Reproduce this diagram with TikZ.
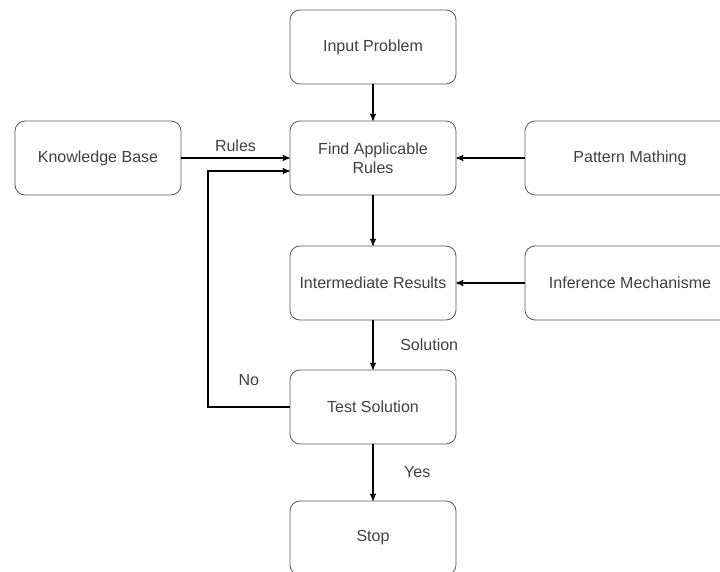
\documentclass[tikz,border=0pt]{standalone}
\usepackage{fontspec}
\setmainfont{Liberation Sans}
\usepackage{tikz}
\usetikzlibrary{arrows,calc}

\begin{document}
\begin{tikzpicture}[->,>=stealth',thick,auto,
      every node/.style={font=\fontsize{11.4}{13.7}\selectfont,text=black!75},
      box/.style={rectangle,rounded corners=0.25cm,draw=black!65,semithick,
        minimum width=4.15cm,minimum height=1.85cm,align=center},
      widebox/.style={box,minimum width=5.25cm}]
      \useasboundingbox (0,0) rectangle (18,-14.3);

      \node[box] (input) at (9.325, -1.175) {Input Problem};
      \node[box] (find)  at (9.325, -3.95)  {Find Applicable\\Rules};
      \node[box] (kb)    at (2.45,  -3.95)  {Knowledge Base};
      \node[widebox] (pattern) at (15.75, -3.95) {Pattern Mathing};

      \node[box] (inter) at (9.325, -7.075) {Intermediate Results};
      \node[widebox] (infer) at (15.75, -7.075) {Inference Mechanisme};

      \node[box] (test)  at (9.325, -10.175) {Test Solution};
      \node[box] (stop)  at (9.325, -13.45)  {Stop};

      \coordinate (back) at (5.2, -4.275);

      \path
      (input) edge (find)
      (kb) edge node[above, yshift=1pt] {Rules} (find)
      (pattern) edge (find)

      (find) edge (inter)
      (infer) edge (inter)

      (inter) edge node[right, xshift=0.55cm] {Solution} (test)
      (test) edge node[right, xshift=0.65cm] {Yes} (stop)
      ;

      \draw (test.west) -| node[pos=0.25, above, yshift=0.4cm] {No} (back)
            -- (find.west |- back);
\end{tikzpicture}
\end{document}
